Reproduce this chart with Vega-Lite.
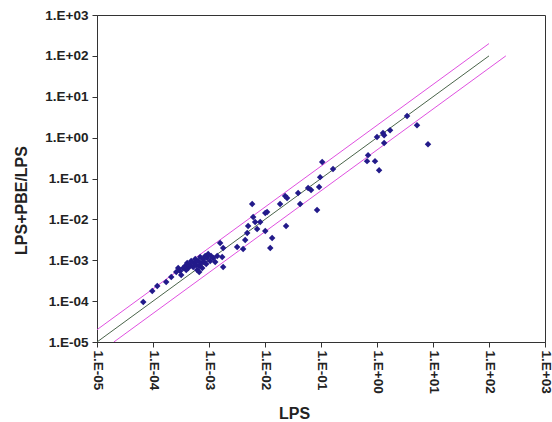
{
  "$schema": "https://vega.github.io/schema/vega-lite/v6.json",
  "width": 448,
  "height": 327,
  "autosize": {"type": "none"},
  "padding": {"left": 97, "top": 15, "right": 7, "bottom": 80},
  "background": "white",
  "config": {
    "view": {"stroke": "#333333", "strokeWidth": 1},
    "axis": {
      "grid": false,
      "domainColor": "#333333",
      "tickColor": "#333333",
      "labelColor": "#222222",
      "labelFont": "Liberation Sans",
      "labelFontWeight": "bold",
      "labelFontSize": 13.5,
      "titleFont": "Liberation Sans",
      "titleFontWeight": "bold",
      "titleFontSize": 16,
      "titleColor": "#222222",
      "tickSize": 5
    }
  },
  "datasets": {
    "points": [
      {"LPS": 6.7e-5, "LPSPBE": 9.5e-5},
      {"LPS": 9.7e-5, "LPSPBE": 1.77e-4},
      {"LPS": 1.19e-4, "LPSPBE": 2.34e-4},
      {"LPS": 1.72e-4, "LPSPBE": 2.93e-4},
      {"LPS": 2.12e-4, "LPSPBE": 3.88e-4},
      {"LPS": 2.60e-4, "LPSPBE": 5.14e-4},
      {"LPS": 2.82e-4, "LPSPBE": 6.44e-4},
      {"LPS": 3.06e-4, "LPSPBE": 5.45e-4},
      {"LPS": 3.47e-4, "LPSPBE": 6.44e-4},
      {"LPS": 3.76e-4, "LPSPBE": 7.21e-4},
      {"LPS": 4.08e-4, "LPSPBE": 8.55e-4},
      {"LPS": 4.26e-4, "LPSPBE": 6.44e-4},
      {"LPS": 4.62e-4, "LPSPBE": 7.64e-4},
      {"LPS": 4.81e-4, "LPSPBE": 9.55e-4},
      {"LPS": 5.22e-4, "LPSPBE": 6.83e-4},
      {"LPS": 5.45e-4, "LPSPBE": 8.55e-4},
      {"LPS": 5.68e-4, "LPSPBE": 1.07e-3},
      {"LPS": 5.92e-4, "LPSPBE": 7.64e-4},
      {"LPS": 6.15e-4, "LPSPBE": 5.75e-4},
      {"LPS": 6.41e-4, "LPSPBE": 9.55e-4},
      {"LPS": 6.68e-4, "LPSPBE": 7.21e-4},
      {"LPS": 6.97e-4, "LPSPBE": 1.20e-3},
      {"LPS": 7.26e-4, "LPSPBE": 8.55e-4},
      {"LPS": 7.57e-4, "LPSPBE": 6.44e-4},
      {"LPS": 7.89e-4, "LPSPBE": 1.07e-3},
      {"LPS": 8.20e-4, "LPSPBE": 9.04e-4},
      {"LPS": 8.55e-4, "LPSPBE": 1.27e-3},
      {"LPS": 8.91e-4, "LPSPBE": 8.07e-4},
      {"LPS": 9.29e-4, "LPSPBE": 1.13e-3},
      {"LPS": 9.68e-4, "LPSPBE": 1.42e-3},
      {"LPS": 1.05e-3, "LPSPBE": 9.55e-4},
      {"LPS": 1.09e-3, "LPSPBE": 1.27e-3},
      {"LPS": 1.19e-3, "LPSPBE": 1.13e-3},
      {"LPS": 3.92e-4, "LPSPBE": 5.75e-4},
      {"LPS": 3.19e-4, "LPSPBE": 4.35e-4},
      {"LPS": 6.68e-4, "LPSPBE": 5.14e-4},
      {"LPS": 1.29e-3, "LPSPBE": 9.04e-4},
      {"LPS": 1.40e-3, "LPSPBE": 1.27e-3},
      {"LPS": 1.58e-3, "LPSPBE": 2.64e-3},
      {"LPS": 1.79e-3, "LPSPBE": 1.99e-3},
      {"LPS": 1.72e-3, "LPSPBE": 1.20e-3},
      {"LPS": 1.79e-3, "LPSPBE": 6.83e-4},
      {"LPS": 3.18e-3, "LPSPBE": 2.10e-3},
      {"LPS": 4.07e-3, "LPSPBE": 1.88e-3},
      {"LPS": 4.43e-3, "LPSPBE": 3.12e-3},
      {"LPS": 4.81e-3, "LPSPBE": 4.62e-3},
      {"LPS": 5.00e-3, "LPSPBE": 6.85e-3},
      {"LPS": 5.90e-3, "LPSPBE": 2.37e-2},
      {"LPS": 6.15e-3, "LPSPBE": 1.14e-2},
      {"LPS": 6.67e-3, "LPSPBE": 8.59e-3},
      {"LPS": 8.21e-3, "LPSPBE": 8.59e-3},
      {"LPS": 7.24e-3, "LPSPBE": 5.80e-3},
      {"LPS": 1.01e-2, "LPSPBE": 1.43e-2},
      {"LPS": 1.09e-2, "LPSPBE": 1.51e-2},
      {"LPS": 1.01e-2, "LPSPBE": 5.18e-3},
      {"LPS": 1.34e-2, "LPSPBE": 3.49e-3},
      {"LPS": 1.24e-2, "LPSPBE": 1.99e-3},
      {"LPS": 1.86e-2, "LPSPBE": 2.37e-2},
      {"LPS": 2.29e-2, "LPSPBE": 3.72e-2},
      {"LPS": 2.48e-2, "LPSPBE": 3.32e-2},
      {"LPS": 2.38e-2, "LPSPBE": 6.85e-3},
      {"LPS": 3.90e-2, "LPSPBE": 4.40e-2},
      {"LPS": 4.24e-2, "LPSPBE": 2.37e-2},
      {"LPS": 5.89e-2, "LPSPBE": 5.82e-2},
      {"LPS": 6.65e-2, "LPSPBE": 5.20e-2},
      {"LPS": 9.25e-2, "LPSPBE": 6.17e-2},
      {"LPS": 9.64e-2, "LPSPBE": 1.08e-1},
      {"LPS": 8.51e-2, "LPSPBE": 1.69e-2},
      {"LPS": 1.05e-1, "LPSPBE": 2.52e-1},
      {"LPS": 1.64e-1, "LPSPBE": 1.70e-1},
      {"LPS": 6.64e-1, "LPSPBE": 2.66e-1},
      {"LPS": 6.92e-1, "LPSPBE": 3.73e-1},
      {"LPS": 9.22e-1, "LPSPBE": 2.66e-1},
      {"LPS": 1.09, "LPSPBE": 1.60e-1},
      {"LPS": 1.00, "LPSPBE": 1.03},
      {"LPS": 1.28, "LPSPBE": 1.29},
      {"LPS": 1.34, "LPSPBE": 1.15},
      {"LPS": 1.71, "LPSPBE": 1.52},
      {"LPS": 1.34, "LPSPBE": 7.35e-1},
      {"LPS": 3.44, "LPSPBE": 3.36},
      {"LPS": 5.18, "LPSPBE": 2.02},
      {"LPS": 8.15, "LPSPBE": 6.93e-1}
    ],
    "lines": [
      {"series": "upper", "LPS": 1e-5, "LPSPBE": 2e-5},
      {"series": "upper", "LPS": 100, "LPSPBE": 200},
      {"series": "equal", "LPS": 1e-5, "LPSPBE": 1e-5},
      {"series": "equal", "LPS": 100, "LPSPBE": 100},
      {"series": "lower", "LPS": 2e-5, "LPSPBE": 1e-5},
      {"series": "lower", "LPS": 200, "LPSPBE": 100}
    ]
  },
  "encoding": {
    "x": {
      "field": "LPS",
      "type": "quantitative",
      "scale": {"type": "log", "domain": [1e-5, 1000], "nice": false},
      "axis": {
        "title": "LPS",
        "values": [1e-5, 1e-4, 1e-3, 1e-2, 1e-1, 1, 10, 100, 1000],
        "labelAngle": 90,
        "labelPadding": 3,
        "labelFlush": false,
        "labelOverlap": false,
        "labelExpr": "'1.E' + (round(log(datum.value)/LN10) >= 0 ? '+' : '-') + (abs(round(log(datum.value)/LN10)) < 10 ? '0' : '') + abs(round(log(datum.value)/LN10))",
        "titleX": 197,
        "titleY": 71,
        "titleAlign": "center",
        "titleBaseline": "middle"
      }
    },
    "y": {
      "field": "LPSPBE",
      "type": "quantitative",
      "scale": {"type": "log", "domain": [1e-5, 1000], "nice": false},
      "axis": {
        "title": "LPS+PBE/LPS",
        "values": [1e-5, 1e-4, 1e-3, 1e-2, 1e-1, 1, 10, 100, 1000],
        "labelPadding": 4,
        "labelFlush": false,
        "labelOverlap": false,
        "labelExpr": "'1.E' + (round(log(datum.value)/LN10) >= 0 ? '+' : '-') + (abs(round(log(datum.value)/LN10)) < 10 ? '0' : '') + abs(round(log(datum.value)/LN10))",
        "titleX": -76,
        "titleY": 185,
        "titleAlign": "center",
        "titleBaseline": "middle"
      }
    }
  },
  "layer": [
    {
      "data": {"name": "lines"},
      "mark": {"type": "line", "strokeWidth": 1, "clip": true},
      "encoding": {
        "detail": {"field": "series"},
        "color": {
          "field": "series",
          "type": "nominal",
          "scale": {"domain": ["upper", "equal", "lower"], "range": ["#e050e0", "#4a644a", "#e050e0"]},
          "legend": null
        }
      }
    },
    {
      "data": {"name": "points"},
      "mark": {"type": "point", "shape": "diamond", "filled": true, "size": 42, "color": "#221a8a", "opacity": 1}
    }
  ]
}
